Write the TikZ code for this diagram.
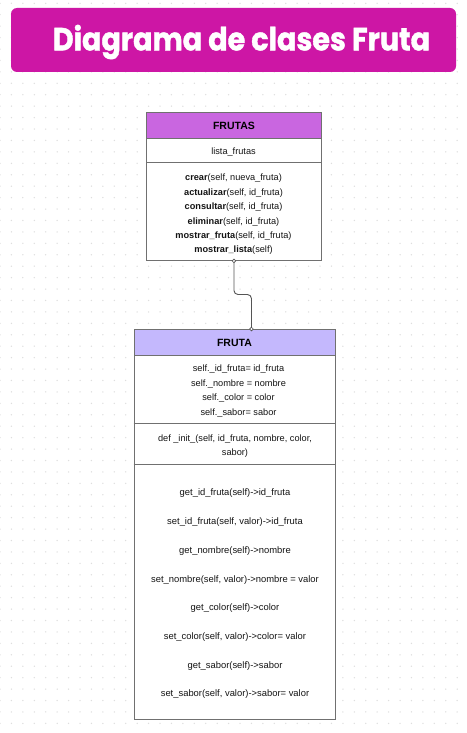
\documentclass[tikz,border=0pt]{standalone}
\usepackage{fontspec}
\setmainfont{Liberation Sans}
\newfontfamily\titlefont{Poppins}[BoldFeatures={FakeBold=1.3}]
\definecolor{titlec}{RGB}{205,22,165}
\definecolor{hdrone}{RGB}{201,102,224}
\definecolor{hdrtwo}{RGB}{196,184,253}
\definecolor{borderc}{RGB}{112,112,112}
\definecolor{dotc}{RGB}{222,222,222}
\definecolor{connc}{RGB}{85,85,85}
\definecolor{textc}{RGB}{20,20,20}
\tikzset{
  classbox/.style={draw=borderc, line width=0.9pt, fill=white, inner sep=0pt, anchor=north west},
  hdrbox/.style={draw=borderc, line width=0.9pt, inner sep=0pt, anchor=north west, text=black, font=\fontsize{10.5}{12}\selectfont\bfseries},
  txt/.style={inner sep=0pt, align=center, text=textc},
  divline/.style={draw=borderc, line width=0.9pt},
  conn/.style={draw=connc, line width=0.9pt, rounded corners=4pt},
  enddot/.style={draw=connc, fill=white, line width=0.7pt}
}
\begin{document}
\begin{tikzpicture}[x=1pt,y=-1pt]
\useasboundingbox (0,0) rectangle (466,733);
\fill[white] (0,0) rectangle (466,733);
\foreach \i in {0,...,40}{\foreach \j in {0,...,63}{\fill[dotc] (\i*11.43,3.3+\j*11.43) circle (0.75);}}
% title
\node[fill=titlec, rounded corners=6pt, minimum width=445pt, minimum height=64pt, inner sep=0pt] (title) at (233.5,40) {};
\node[inner sep=0pt, text=white, font=\titlefont\fontsize{32}{36}\selectfont\bfseries] (titletext) at (241.5,42) {\scalebox{0.893}[1]{Diagrama de clases Fruta}};
% FRUTAS
\node[classbox, minimum width=175pt, minimum height=148pt] (frutas) at (146,112) {};
\node[hdrbox, fill=hdrone, minimum width=175pt, minimum height=25.5pt, text depth=0pt, text height=7.6pt, inner ysep=0pt] (frutashdr) at (146,112) {FRUTAS};
\draw[divline] (146,162.3) -- (321,162.3);
\node[txt, font=\fontsize{9.2}{14.4}\selectfont] (frutasattr) at (233.5,152.5) {lista\_frutas};
\node[txt, font=\fontsize{9.2}{14.4}\selectfont] (frutasops) at (233.5,214.5) {\textbf{crear}(self, nueva\_fruta)\\\textbf{actualizar}(self, id\_fruta)\\\textbf{consultar}(self, id\_fruta)\\\textbf{eliminar}(self, id\_fruta)\\\textbf{mostrar\_fruta}(self, id\_fruta)\\\textbf{mostrar\_lista}(self)};
% FRUTA
\node[classbox, minimum width=201pt, minimum height=390pt] (fruta) at (133.5,329) {};
\node[hdrbox, fill=hdrtwo, minimum width=201pt, minimum height=25.5pt, text depth=0pt, text height=7.6pt, inner ysep=0pt] (frutahdr) at (133.5,329) {FRUTA};
\draw[divline] (133.5,423.5) -- (334.5,423.5);
\draw[divline] (133.5,464.5) -- (334.5,464.5);
\node[txt, font=\fontsize{9.2}{14.4}\selectfont] (frutaattr) at (238.5,391) {self.\_id\_fruta= id\_fruta\\self.\_nombre = nombre\\self.\_color = color\\self.\_sabor= sabor};
\node[txt, font=\fontsize{9.2}{14}\selectfont] (frutainit) at (235,446) {def \_init\_(self, id\_fruta, nombre, color,\\sabor)};
\node[txt, font=\fontsize{9.4}{28.7}\selectfont] (frutaops) at (235,594) {get\_id\_fruta(self)->id\_fruta\\set\_id\_fruta(self, valor)->id\_fruta\\get\_nombre(self)->nombre\\set\_nombre(self, valor)->nombre = valor\\get\_color(self)->color\\set\_color(self, valor)->color= valor\\get\_sabor(self)->sabor\\set\_sabor(self, valor)->sabor= valor};
% connector
\coordinate (cstart) at (frutas.south);
\coordinate (cend) at ([xshift=17pt]fruta.north);
\draw[conn] (cstart) -- (cstart |- 0,294.5) -- (cend |- 0,294.5) -- (cend);
\draw[enddot] (cstart) circle (1.8);
\draw[enddot] (cend) circle (1.8);
\end{tikzpicture}
\end{document}
